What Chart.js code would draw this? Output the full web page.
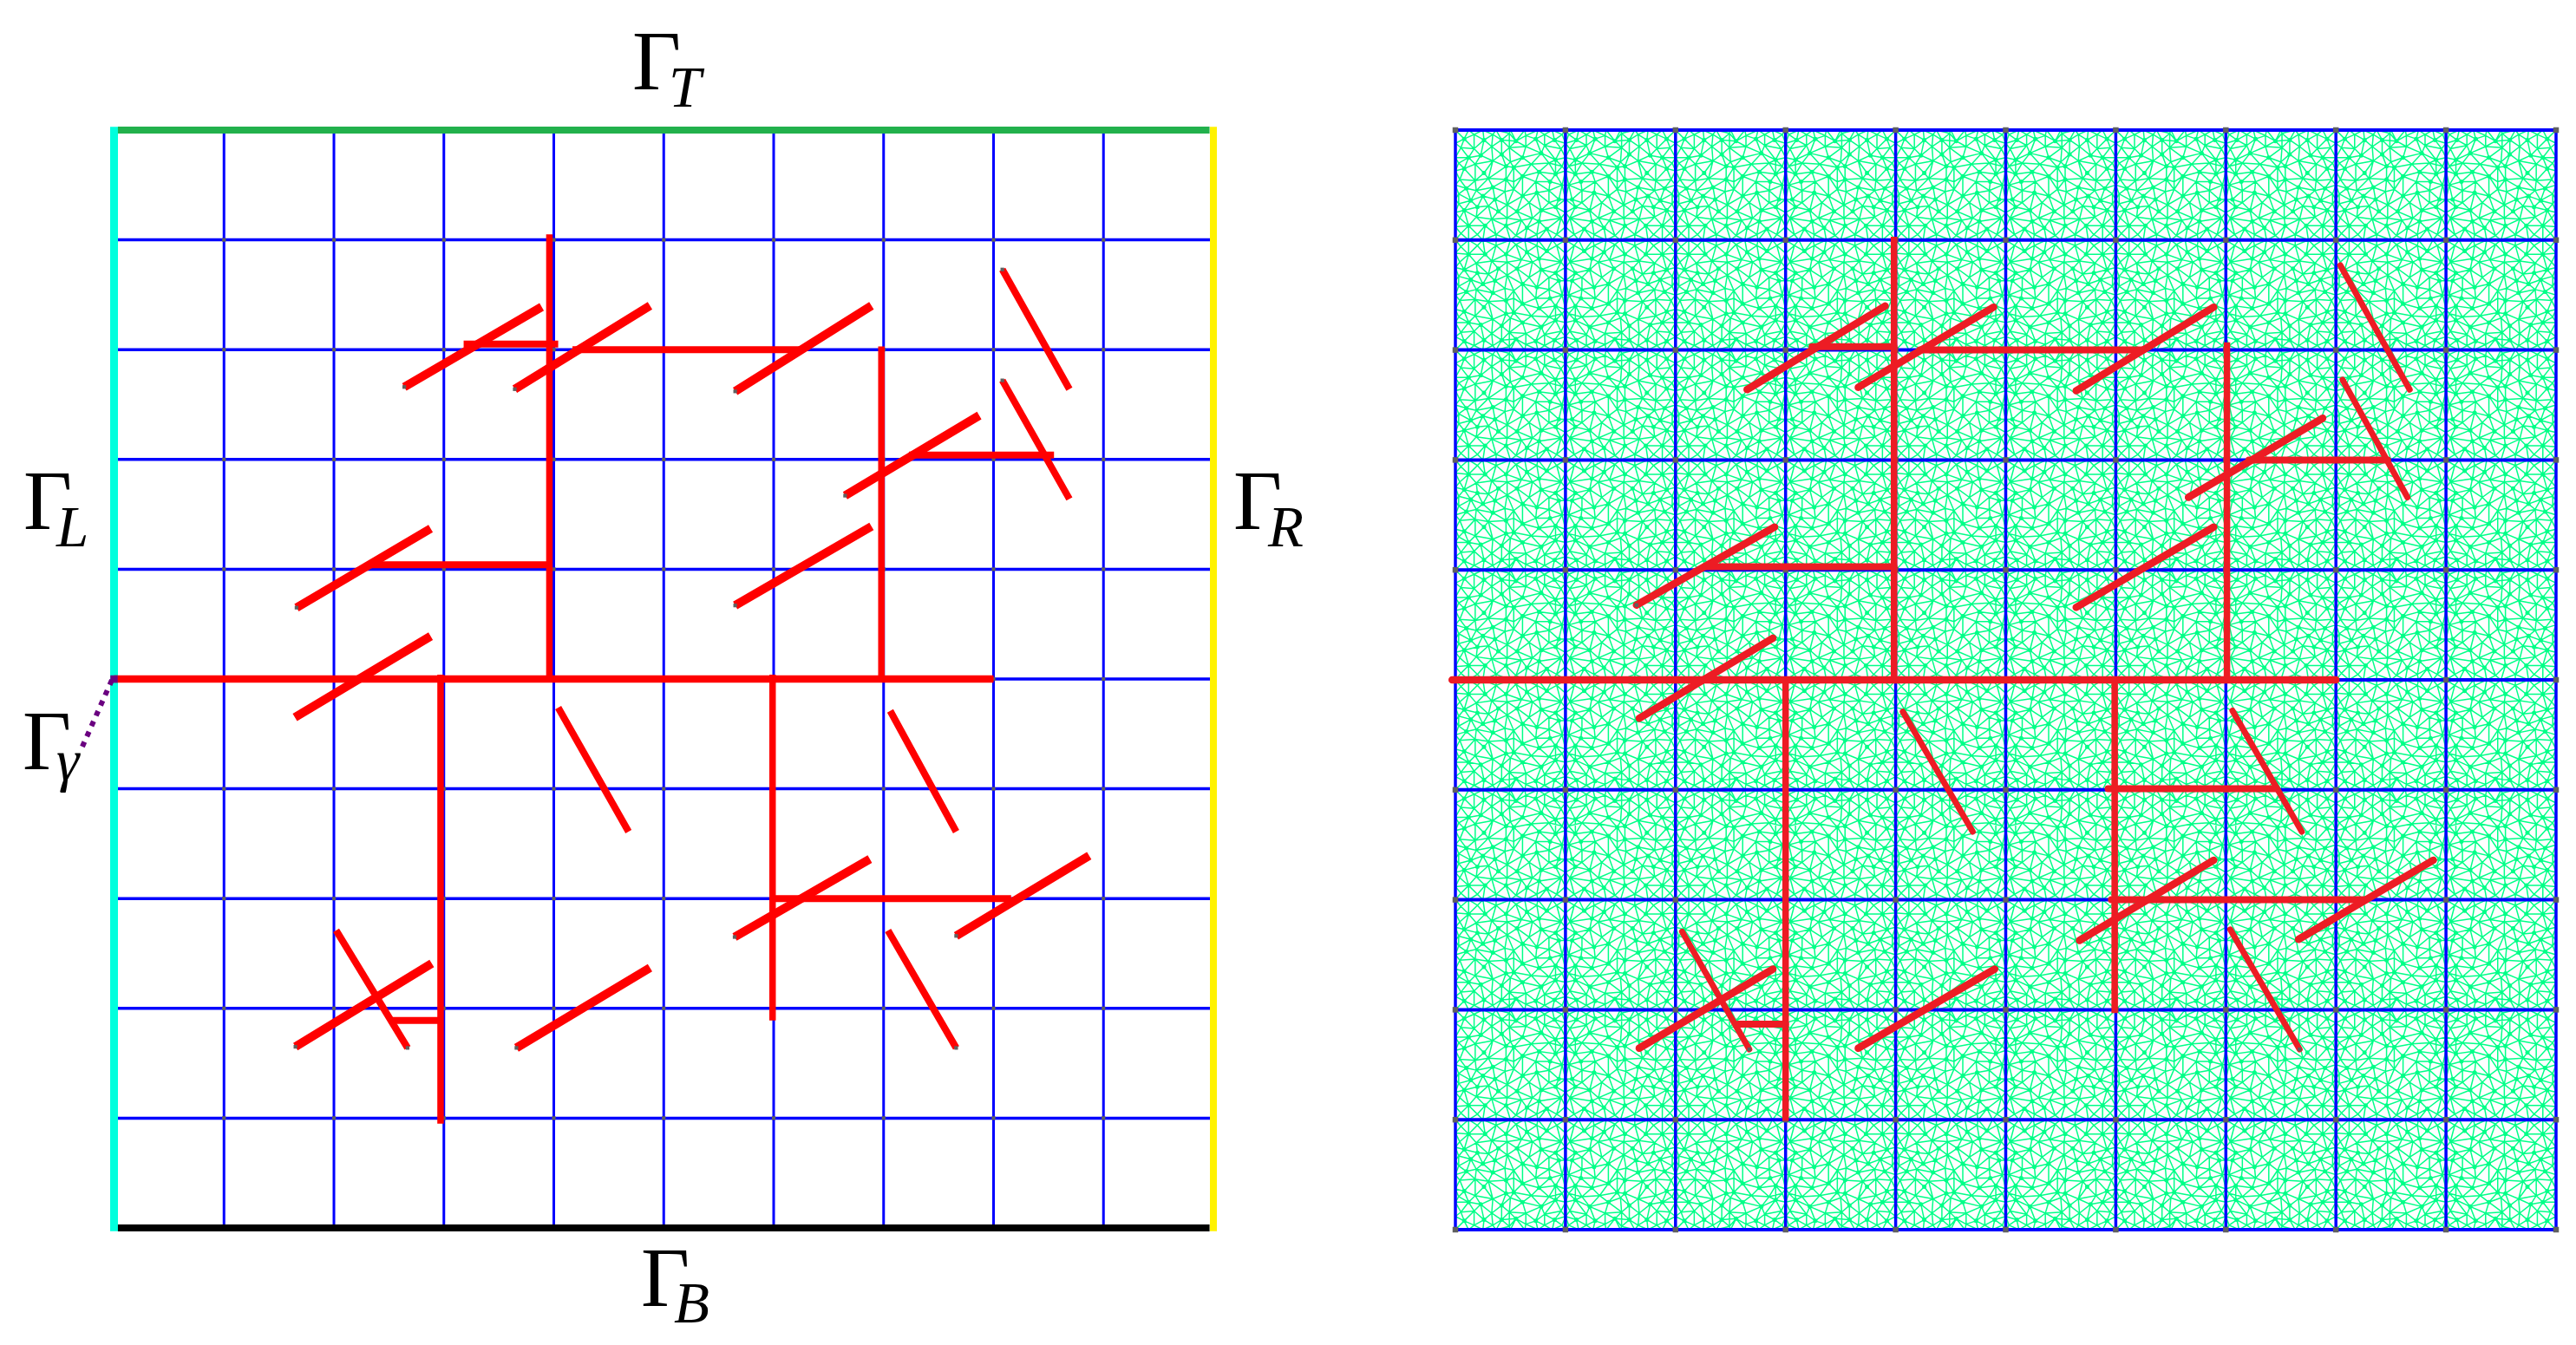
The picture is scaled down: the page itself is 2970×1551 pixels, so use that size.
<!DOCTYPE html>
<html lang="en">
<head>
<meta charset="UTF-8">
<title>Fracture network and mesh</title>
<script src="https://cdn.jsdelivr.net/npm/chart.js"></script>
<style>
    html, body { margin: 0; padding: 0; background: #fff; width: 2970px; height: 1551px; overflow: hidden; }
    canvas { position: absolute; top: 0; }
    #leftChart { left: 0; }
    #rightChart { left: 1550px; }
    .big, .sub { position: absolute; font-family: "Liberation Serif", serif; line-height: 1; color: #000; white-space: pre; }
    .big { font-size: 97px; }
    .sub { font-size: 67px; font-style: italic; }
</style>
</head>
<body>
<canvas id="leftChart" width="1500" height="1551"></canvas>
<canvas id="rightChart" width="1420" height="1551"></canvas>
<div id="labels"></div>

<script>
// all positions are in grid cells, 0..10 on both axes, y up
var gridTicks = [0, 1, 2, 3, 4, 5, 6, 7, 8, 9, 10]
var innerTicks = [1, 2, 3, 4, 5, 6, 7, 8, 9]

// left panel cracks: [x1, y1, x2, y2]
var leftMain = [[0, 5, 8, 5]]
var leftVertical = [[3.96, 9.05, 3.96, 5], [6.98, 8.03, 6.98, 5], [2.97, 5.04, 2.97, 0.95], [5.99, 5.04, 5.99, 1.89]]
var leftHorizontal = [[3.18, 8.05, 4.04, 8.05], [4.17, 8, 6.25, 8], [7.23, 7.04, 8.55, 7.04], [2.32, 6.04, 3.98, 6.04], [6, 3, 8.16, 3], [2.51, 1.89, 2.97, 1.89]]
var leftSlash = [[2.64, 7.66, 3.89, 8.39], [3.645, 7.64, 4.875, 8.4], [5.65, 7.62, 6.89, 8.4], [6.65, 6.67, 7.87, 7.4], [5.65, 5.67, 6.89, 6.39], [1.66, 5.65, 2.88, 6.37], [1.645, 4.65, 2.88, 5.39], [5.645, 2.65, 6.875, 3.36], [7.66, 2.66, 8.87, 3.39], [1.65, 1.65, 2.89, 2.41], [3.66, 1.64, 4.875, 2.37]]
var leftBackslash = [[8.08, 8.73, 8.69, 7.64], [8.08, 7.72, 8.69, 6.64], [4.04, 4.74, 4.68, 3.61], [7.06, 4.71, 7.66, 3.61], [2.02, 2.71, 2.67, 1.64], [7.04, 2.71, 7.66, 1.64]]
var leftTipX = [2.64, 3.645, 5.65, 6.65, 5.65, 1.66, 5.645, 7.66, 1.65, 2.67, 3.66, 7.66, 8.08, 8.08]
var leftTipY = [7.66, 7.64, 7.62, 6.67, 5.67, 5.65, 2.65, 2.66, 1.65, 1.64, 1.64, 1.64, 8.73, 7.72]

// right panel cracks
var rightMain = [[-0.03, 5, 8, 5]]
var rightVertical = [[3.985, 9.03, 3.985, 5], [7.01, 8.07, 7.01, 5], [3, 5, 3, 0.99], [5.99, 5, 5.99, 1.97]]
var rightHorizontal = [[3.24, 8.03, 3.985, 8.03], [4.22, 8, 6.25, 8], [7.21, 7, 8.47, 7], [2.27, 6.03, 3.985, 6.03], [5.93, 4.01, 7.46, 4.01], [5.96, 3, 8.27, 3], [2.57, 1.87, 3, 1.87]]
var rightSlash = [[2.65, 7.64, 3.905, 8.4], [3.66, 7.66, 4.89, 8.39], [5.64, 7.63, 6.89, 8.39], [6.66, 6.66, 7.88, 7.38], [5.64, 5.66, 6.89, 6.39], [1.645, 5.68, 2.9, 6.39], [1.67, 4.65, 2.885, 5.38], [5.67, 2.63, 6.89, 3.36], [7.66, 2.64, 8.885, 3.36], [1.67, 1.65, 2.885, 2.37], [3.66, 1.65, 4.9, 2.37]]
var rightBackslash = [[8.04, 8.77, 8.67, 7.64], [8.06, 7.73, 8.65, 6.66], [4.065, 4.71, 4.7, 3.62], [7.06, 4.72, 7.69, 3.62], [2.06, 2.71, 2.67, 1.64], [7.04, 2.73, 7.67, 1.64]]
var rightTipX = [2.67, 7.67, 1.645]
var rightTipY = [1.64, 1.64, 5.68]

// left panel boundary
var boundaryTop = [[0.035, 10, 9.965, 10]]
var boundaryBottom = [[0.035, 0, 9.965, 0]]
var boundaryLeft = [[0, 10.03, 0, -0.03]]
var boundaryRight = [[10, 10.03, 10, -0.03]]
var gammaLeader = [[-0.02, 4.99, -0.29, 4.38]]

// mesh junctions estimated from one cell (fractions of the cell, y from its top).
// the picture has too many triangles to read one by one, so this patch is repeated
var meshHubX = [.08, .26, .42, .55, .73, .90, .12, .23, .42, .61, .78, .91, .08, .26, .46, .53, .76, .91, .10, .34, .46, .61, .86, .25, .14, .36, .74, .61, .94, .08, .20, .39, .56, .78, .91, .12, .27, .46, .65, .83, .76]
var meshHubY = [.08, .09, .09, .10, .08, .09, .25, .23, .22, .25, .21, .27, .35, .39, .33, .34, .38, .40, .53, .52, .45, .42, .47, .60, .64, .63, .57, .60, .63, .73, .70, .74, .74, .73, .70, .87, .87, .87, .89, .90, .83]
var meshMinorX = [.17, .34, .49, .64, .81, .97, .05, .17, .33, .49, .64, .81, .96, .03, .18, .34, .50, .69, .85, .97, .04, .18, .30, .53, .73, .97, .03, .19, .45, .53, .85, .03, .30, .47, .67, .85, .04, .19, .33, .47, .60, .70, .96, .05, .20, .37, .55, .74, .92]
var meshMinorY = [.04, .04, .03, .05, .04, .04, .16, .17, .15, .16, .15, .14, .17, .30, .31, .28, .29, .31, .30, .33, .45, .46, .44, .47, .47, .50, .58, .55, .56, .54, .55, .67, .69, .68, .66, .66, .80, .79, .81, .80, .82, .80, .80, .94, .95, .95, .96, .95, .95]
var meshEdgeStops = [0, .12, .25, .37, .5, .63, .75, .88, 1]

function toLine(segs) {
    var pts = []
    segs.forEach(function (s) {
        pts.push({ x: s[0], y: s[1] }, { x: s[2], y: s[3] }, { x: null, y: null })
    })
    return pts
}

function gridLines(ticks, from, to) {
    var segs = []
    ticks.forEach(function (t) {
        segs.push([t, from, t, to])
    })
    return toLine(segs)
}

function gridLinesH(ticks, from, to) {
    var segs = []
    ticks.forEach(function (t) {
        segs.push([from, t, to, t])
    })
    return toLine(segs)
}

function nodes(ticks) {
    var pts = []
    ticks.forEach(function (a) {
        ticks.forEach(function (b) {
            pts.push({ x: a, y: b })
        })
    })
    return pts
}

function zipPts(xs, ys) {
    return xs.map(function (x, i) { return { x: x, y: ys[i] } })
}

// joins the junctions into triangles (Delaunay, brute force is enough for one cell)
function meshPatch() {
    var n = meshHubX.map(function (x, i) { return [x, meshHubY[i]] })
    meshMinorX.forEach(function (x, i) { n.push([x, meshMinorY[i]]) })
    meshEdgeStops.forEach(function (s) {
        n.push([s, 0], [s, 1])
        if (s > 0 && s < 1) n.push([0, s], [1, s])
    })
    var seen = {}
    var edges = []
    function addEdge(a, b) {
        var key = Math.min(a, b) + '_' + Math.max(a, b)
        if (!seen[key]) {
            seen[key] = true
            edges.push([n[a][0], n[a][1], n[b][0], n[b][1]])
        }
    }
    for (var i = 0; i < n.length; i++) {
        for (var j = i + 1; j < n.length; j++) {
            for (var k = j + 1; k < n.length; k++) {
                var bx = n[j][0] - n[i][0], by = n[j][1] - n[i][1]
                var cx = n[k][0] - n[i][0], cy = n[k][1] - n[i][1]
                var d = 2 * (bx * cy - by * cx)
                if (Math.abs(d) < 1e-6) continue
                var ux = (cy * (bx * bx + by * by) - by * (cx * cx + cy * cy)) / d
                var uy = (bx * (cx * cx + cy * cy) - cx * (bx * bx + by * by)) / d
                var r2 = ux * ux + uy * uy
                var empty = true
                for (var m = 0; m < n.length && empty; m++) {
                    if (m == i || m == j || m == k) continue
                    var dx = n[m][0] - n[i][0] - ux, dy = n[m][1] - n[i][1] - uy
                    if (dx * dx + dy * dy < r2 - 1e-9) empty = false
                }
                if (empty) {
                    addEdge(i, j)
                    addEdge(j, k)
                    addEdge(i, k)
                }
            }
        }
    }
    return edges
}

function place(cx, cy, col, row) {
    var x = col % 2 ? 1 - cx : cx
    var y = row % 2 ? 1 - cy : cy
    return { x: col + x, y: 10 - row - y }
}

var patchEdges = meshPatch()
var meshEdgePts = []
var meshHubPts = []
for (var col = 0; col < 10; col++) {
    for (var row = 0; row < 10; row++) {
        patchEdges.forEach(function (e) {
            meshEdgePts.push(place(e[0], e[1], col, row), place(e[2], e[3], col, row), { x: null, y: null })
        })
        for (var h = 0; h < meshHubX.length; h++) {
            meshHubPts.push(place(meshHubX[h], meshHubY[h], col, row))
        }
    }
}

function lineSet(data, color, width, order, extra) {
    return Object.assign({
        data: data, borderColor: color, borderWidth: width, order: order,
        showLine: true, pointRadius: 0, pointHoverRadius: 0, spanGaps: false,
        borderCapStyle: 'butt', tension: 0, clip: false
    }, extra || {})
}

function pointSet(data, color, radius, style, order) {
    return {
        data: data, showLine: false, order: order, clip: false,
        pointStyle: style, pointRadius: radius, pointHoverRadius: radius,
        pointBackgroundColor: color, pointBorderWidth: 0
    }
}

function makeChart(id, padding, datasets) {
    return new Chart(document.getElementById(id), {
        type: 'scatter',
        data: { datasets: datasets },
        options: {
            responsive: false,
            devicePixelRatio: 1,
            animation: false,
            events: [],
            layout: { padding: padding },
            plugins: { legend: { display: false }, tooltip: { enabled: false } },
            scales: {
                x: { type: 'linear', min: 0, max: 10, display: false },
                y: { type: 'linear', min: 0, max: 10, display: false }
            }
        }
    })
}

var redLeft = '#ff0000'
var redRight = '#ed1c24'

makeChart('leftChart', { left: 131.5, right: 101, top: 150, bottom: 135 }, [
    lineSet(gridLines(innerTicks, 0, 10), '#0000ff', 3, 8),
    lineSet(gridLinesH(innerTicks, 0, 10), '#0000ff', 3.5, 8),
    pointSet(nodes(innerTicks), '#606060', 3, 'rect', 7),
    lineSet(toLine(boundaryLeft), '#00ffdd', 9, 6),
    lineSet(toLine(boundaryRight), '#fff200', 8, 6),
    lineSet(toLine(boundaryTop), '#22b14c', 8, 5),
    lineSet(toLine(boundaryBottom), '#000000', 8, 5),
    lineSet(toLine(leftVertical), redLeft, 7.5, 4),
    lineSet(toLine(leftHorizontal), redLeft, 8, 3),
    lineSet(toLine(leftSlash), redLeft, 10, 3),
    lineSet(toLine(leftBackslash), redLeft, 8, 3),
    lineSet(toLine(leftMain), redLeft, 8.5, 2),
    pointSet(zipPts(leftTipX, leftTipY), '#606060', 3, 'rect', 2),
    lineSet(toLine(gammaLeader), '#6a0080', 6, 1, { borderDash: [6, 7] }),
    pointSet([{ x: 0, y: 5 }], '#6a0080', 6, 'rect', 1)
])

makeChart('rightChart', { left: 128, right: 23, top: 150, bottom: 133 }, [
    lineSet(meshEdgePts, '#00ff88', 1.5, 9),
    pointSet(meshHubPts, '#00ff88', 2.5, 'circle', 9),
    lineSet(gridLines(gridTicks, 0, 10), '#0000ff', 3.5, 8),
    lineSet(gridLinesH(gridTicks, 0, 10), '#0000ff', 4, 8),
    pointSet(nodes(gridTicks), '#606060', 4.6, 'rect', 7),
    lineSet(toLine(rightVertical), redRight, 7.5, 4),
    lineSet(toLine(rightHorizontal), redRight, 8, 3, { borderCapStyle: 'round' }),
    lineSet(toLine(rightSlash), redRight, 8.5, 3, { borderCapStyle: 'round' }),
    lineSet(toLine(rightBackslash), redRight, 7, 3, { borderCapStyle: 'round' }),
    lineSet(toLine(rightMain), redRight, 8.5, 2, { borderCapStyle: 'round' }),
    pointSet(zipPts(rightTipX, rightTipY), '#606060', 3, 'rect', 2)
])

// boundary names, placed by baseline (0.8375em below the top of a line-height 1 box)
var labelSubs = ['T', 'L', 'R', 'γ', 'B']
var labelBigX = [729, 27, 1422, 26, 739]
var labelBigBase = [103, 610, 610, 887, 1506]
var labelSubX = [771, 65, 1462, 65, 777]
var labelSubBase = [123, 630, 630, 900, 1525]

var box = document.getElementById('labels')
labelSubs.forEach(function (s, i) {
    var g = document.createElement('span')
    g.className = 'big'
    g.textContent = 'Γ'
    g.style.left = labelBigX[i] + 'px'
    g.style.top = (labelBigBase[i] - 0.8375 * 97) + 'px'
    box.appendChild(g)
    var t = document.createElement('span')
    t.className = 'sub'
    t.textContent = s
    t.style.left = labelSubX[i] + 'px'
    t.style.top = (labelSubBase[i] - 0.8375 * 67) + 'px'
    box.appendChild(t)
})
</script>
</body>
</html>
